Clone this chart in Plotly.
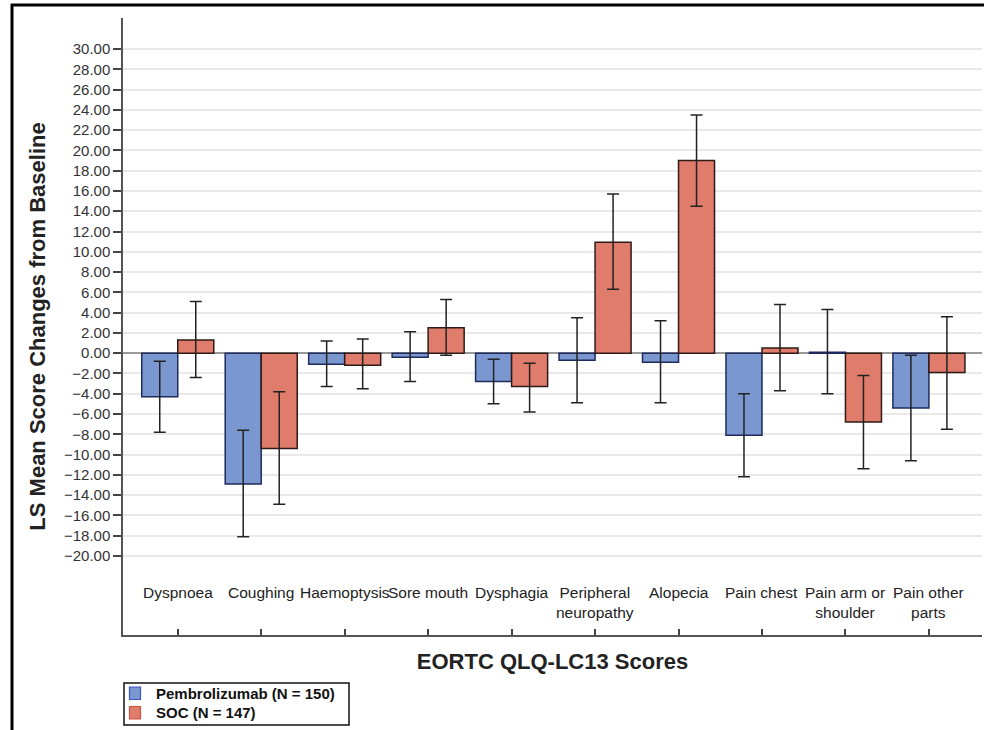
import plotly.graph_objects as go

categories = ["Dyspnoea", "Coughing", "Haemoptysis", "Sore mouth", "Dysphagia",
              "Peripheral<br>neuropathy", "Alopecia", "Pain chest",
              "Pain arm or<br>shoulder", "Pain other<br>parts"]

pembro_mean = [-4.3, -12.9, -1.1, -0.4, -2.8, -0.7, -0.9, -8.1, 0.1, -5.4]
pembro_lower = [-7.8, -18.1, -3.3, -2.8, -5.0, -4.9, -4.9, -12.2, -4.0, -10.6]
pembro_upper = [-0.8, -7.6, 1.2, 2.1, -0.6, 3.5, 3.2, -4.0, 4.3, -0.2]

soc_mean = [1.3, -9.4, -1.2, 2.5, -3.3, 10.95, 19.0, 0.5, -6.8, -1.9]
soc_lower = [-2.4, -14.9, -3.5, -0.2, -5.8, 6.3, 14.5, -3.7, -11.4, -7.5]
soc_upper = [5.1, -3.8, 1.4, 5.3, -1.0, 15.7, 23.5, 4.8, -2.2, 3.6]

y_ticks = list(range(-20, 31, 2))

series = [
    ("Pembrolizumab (N = 150)", pembro_mean, pembro_lower, pembro_upper, "#7b97d0", "#1e2b5c", "#3a55c8"),
    ("SOC (N = 147)", soc_mean, soc_lower, soc_upper, "#e07c6b", "#2e1a16", "#d0503e"),
]

L, R, T, B = 123, 2, 18, 95
W, H = 984, 730
pw, ph = W - L - R, H - T - B

def px_x(px):
    return (px - L) / pw

def px_y(py):
    return (H - B - py) / ph

fig = go.Figure()
for name, mean, lo, hi, fill, edge, _ in series:
    fig.add_trace(go.Bar(
        x=categories, y=mean, name=name,
        marker=dict(color=fill, line=dict(color=edge, width=1.5)),
        error_y=dict(type="data", symmetric=False,
                     array=[h - m for h, m in zip(hi, mean)],
                     arrayminus=[m - l for m, l in zip(mean, lo)],
                     color="#222222", thickness=1.5, width=6),
    ))

# category labels placed inside the plot area, above the axis line
for c in categories:
    fig.add_annotation(x=c, y=-22.6, xref="x", yref="y", text=c, showarrow=False,
                       yanchor="top", xanchor="center", align="center",
                       font=dict(family="Liberation Sans, Arial", size=15.5, color="#222"))

# outer frame lines
fig.add_shape(type="line", xref="paper", yref="paper",
              x0=px_x(12), x1=px_x(12), y0=px_y(4), y1=px_y(731),
              line=dict(color="black", width=3))
fig.add_shape(type="line", xref="paper", yref="paper",
              x0=px_x(11), x1=px_x(985), y0=px_y(5), y1=px_y(5),
              line=dict(color="black", width=3))

# legend box drawn as shapes + text
fig.add_shape(type="rect", xref="paper", yref="paper",
              x0=px_x(124), x1=px_x(349), y0=px_y(683), y1=px_y(725),
              line=dict(color="#111", width=1.5), fillcolor="white")
for i, (name, _, _, _, fill, _, border) in enumerate(series):
    top = 687 + i * 19.5
    fig.add_shape(type="rect", xref="paper", yref="paper",
                  x0=px_x(129.5), x1=px_x(140.5), y0=px_y(top), y1=px_y(top + 12.5),
                  line=dict(color=border, width=1.2), fillcolor=fill)
    fig.add_annotation(x=px_x(154), y=px_y(top + 6.3), xref="paper", yref="paper",
                       text="<b>" + name + "</b>", showarrow=False,
                       xanchor="left", yanchor="middle",
                       font=dict(family="Liberation Sans, Arial", size=15, color="#111"))

fig.update_layout(
    width=W, height=H,
    margin=dict(l=L, r=R, t=T, b=B, autoexpand=False),
    paper_bgcolor="white", plot_bgcolor="white",
    barmode="group", bargap=0.137, bargroupgap=0,
    font=dict(family="Liberation Sans, Arial", color="#222"),
    showlegend=False,
    xaxis=dict(type="category", range=[-0.656, 9.636], showticklabels=False,
               ticks="inside", ticklen=6, tickwidth=1.5, tickcolor="#444",
               showline=True, linecolor="#555", linewidth=2, showgrid=False,
               title=dict(text="<b>EORTC QLQ-LC13 Scores</b>", standoff=18,
                          font=dict(size=22, color="#222"))),
    yaxis=dict(range=[-27.8, 33.06], tickvals=y_ticks, tickformat=".2f",
               ticks="outside", ticklen=8, tickwidth=1.5, tickcolor="#444",
               tickfont=dict(size=15, color="#333"),
               showline=True, linecolor="#555", linewidth=1.5,
               showgrid=True, gridcolor="#e9e9e9", gridwidth=1.5,
               zeroline=True, zerolinecolor="#9a9a9a", zerolinewidth=1.5,
               title=dict(text="<b>LS Mean Score Changes from Baseline</b>", standoff=12,
                          font=dict(size=22, color="#222"))),
)

fig.write_html("out.html", config={"displayModeBar": False},
               post_script="document.body.style.margin='0';document.body.style.padding='0';")
